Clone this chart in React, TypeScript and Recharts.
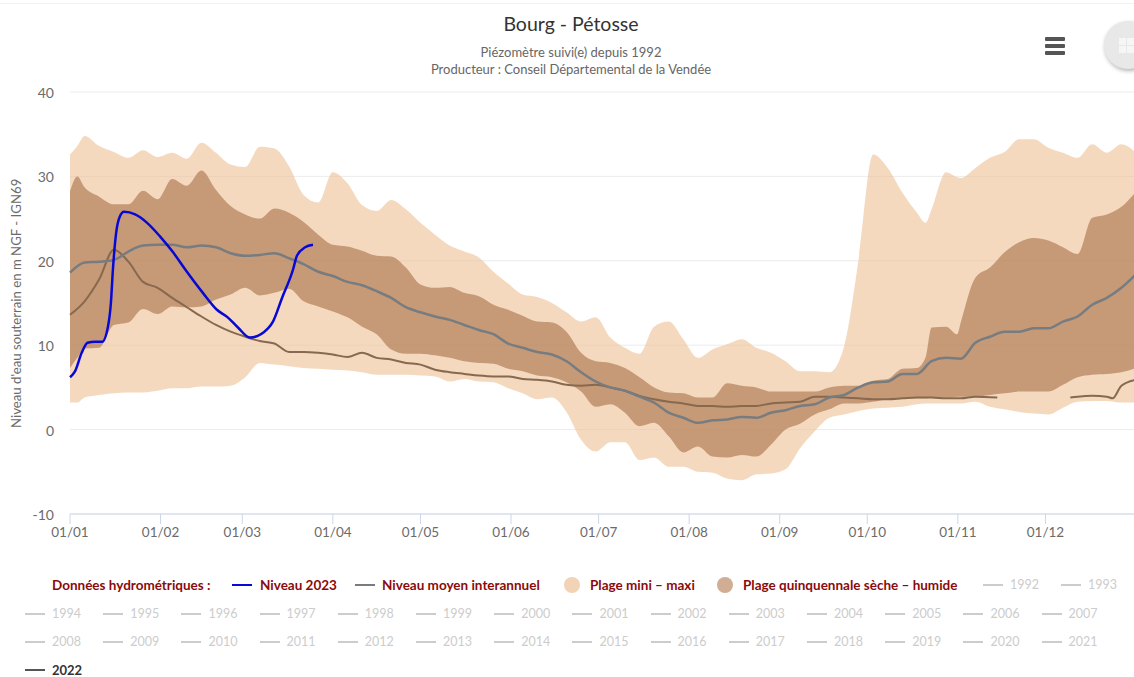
import React from 'react';
import { ComposedChart, Area, Line, XAxis, YAxis, CartesianGrid } from 'recharts';

const FONT = 'Lato, "Noto Sans", sans-serif';

const monthTicks = [0, 31, 59, 90, 120, 151, 181, 212, 243, 273, 304, 334];
const monthLabels = ['01/01', '01/02', '01/03', '01/04', '01/05', '01/06', '01/07', '01/08', '01/09', '01/10', '01/11', '01/12'];
const valueTicks = [-10, 0, 10, 20, 30, 40];

const bandDays = [0, 2.5, 5, 10, 15, 20, 25, 30, 35, 40, 45, 50, 55, 60, 65, 70, 75, 80, 85, 90, 95, 100, 105, 110, 115, 120, 125, 130, 135, 140, 145, 150, 155, 160, 165, 170, 175, 180, 185, 190, 195, 200, 205, 210, 215, 220, 225, 230, 235, 240, 245, 250, 255, 260, 265, 270, 275, 280, 285, 290, 293, 295, 300, 303.8, 305, 310, 315, 320, 325, 330, 335, 340, 345, 350, 355, 360, 365];

const maxValues = [32.6, 33.6, 34.8, 33.6, 32.9, 32.2, 33.1, 32.3, 32.8, 32.1, 34.0, 32.8, 31.4, 31.1, 33.5, 33.3, 31.2, 27.8, 26.9, 30.5, 29.2, 26.6, 25.9, 27.2, 26.1, 24.5, 23.1, 21.8, 21.1, 20.4, 18.7, 17.3, 16.0, 15.7, 15.0, 13.9, 12.8, 13.3, 10.9, 9.7, 9.0, 12.2, 12.8, 10.7, 8.5, 9.5, 10.1, 10.7, 9.7, 9.1, 8.1, 6.9, 6.9, 6.8, 9.8, 20.1, 32.6, 31.0, 28.1, 25.7, 24.5, 26.1, 30.5, 29.9, 29.8, 31.0, 32.2, 32.9, 34.4, 34.4, 33.4, 32.8, 32.2, 33.8, 32.8, 33.8, 32.8];
const minValues = [3.2, 3.2, 3.8, 4.1, 4.3, 4.4, 4.4, 4.6, 4.9, 4.9, 5.1, 5.1, 5.2, 6.2, 7.9, 7.7, 7.5, 7.3, 7.2, 7.1, 7.0, 6.8, 6.5, 6.5, 6.5, 6.4, 6.3, 5.7, 6.0, 5.7, 5.6, 4.9, 4.3, 3.6, 3.8, 2.1, -1.2, -2.6, -1.5, -1.5, -3.6, -3.3, -4.4, -4.4, -5.0, -5.1, -5.8, -6.0, -5.3, -5.2, -4.7, -2.2, -0.2, 1.4, 1.8, 2.2, 2.5, 2.6, 2.7, 3.0, 3.1, 3.1, 3.1, 3.1, 3.1, 3.3, 2.7, 2.4, 2.1, 1.9, 1.8, 2.6, 3.3, 3.4, 3.4, 3.2, 3.2];
const dryValues = [7.3, 8.5, 9.6, 9.7, 12.4, 12.7, 14.3, 13.7, 14.6, 14.5, 14.6, 15.4, 16.0, 16.8, 15.9, 16.2, 16.7, 15.2, 14.6, 14.0, 13.3, 12.2, 11.3, 9.5, 9.0, 9.0, 8.8, 8.5, 8.1, 7.9, 7.8, 7.2, 6.9, 6.4, 6.2, 5.6, 4.5, 2.7, 3.0, 2.0, 0.4, 0.8, -0.8, -2.7, -2.0, -3.2, -3.3, -3.0, -3.2, -1.8, 0.0, 0.7, 1.8, 2.4, 3.1, 3.1, 3.3, 3.6, 3.7, 3.7, 3.7, 3.8, 3.8, 3.9, 3.9, 3.9, 4.1, 4.3, 4.5, 4.5, 4.5, 5.3, 6.2, 6.5, 6.6, 6.8, 7.3];
const wetValues = [28.2, 30.0, 28.7, 27.6, 26.7, 26.7, 28.3, 27.3, 29.7, 28.9, 30.7, 28.4, 26.5, 25.5, 25.0, 26.2, 25.7, 24.6, 23.1, 21.9, 21.7, 21.2, 20.6, 20.5, 19.2, 17.2, 16.8, 16.9, 16.2, 15.8, 14.8, 14.2, 13.5, 12.8, 12.7, 11.6, 9.1, 8.1, 7.9, 7.3, 6.2, 5.0, 4.4, 4.3, 3.8, 3.8, 5.5, 5.2, 5.0, 4.5, 4.5, 4.5, 4.5, 5.0, 5.2, 5.2, 5.8, 6.0, 7.2, 7.3, 8.6, 12.1, 12.2, 11.3, 12.7, 18.0, 19.2, 21.0, 22.2, 22.7, 22.4, 21.6, 20.8, 25.1, 25.5, 26.4, 28.2];

const meanDays = [0, 5, 10, 15, 20, 25, 30, 35, 40, 45, 50, 55, 60, 65, 70, 75, 80, 85, 90, 95, 100, 105, 110, 115, 120, 125, 130, 135, 140, 145, 150, 155, 160, 165, 170, 175, 180, 185, 190, 195, 200, 205, 210, 215, 220, 225, 230, 235, 240, 245, 250, 255, 260, 265, 270, 275, 280, 285, 290, 295, 300, 305, 310, 315, 320, 325, 330, 335, 340, 345, 350, 355, 360, 365];
const meanValues = [18.6, 19.8, 19.9, 20.1, 21.1, 21.8, 21.9, 21.9, 21.6, 21.8, 21.6, 20.9, 20.6, 20.7, 20.9, 20.3, 19.6, 18.7, 18.2, 17.5, 17.1, 16.4, 15.6, 14.5, 13.9, 13.4, 13.0, 12.4, 11.8, 11.3, 10.2, 9.7, 9.2, 8.9, 8.1, 6.8, 5.7, 5.0, 4.6, 3.9, 3.2, 2.0, 1.4, 0.8, 1.1, 1.2, 1.5, 1.4, 2.0, 2.3, 2.8, 3.0, 3.8, 4.1, 5.0, 5.6, 5.7, 6.6, 6.6, 8.1, 8.5, 8.4, 10.3, 11.0, 11.6, 11.6, 12.0, 12.0, 12.8, 13.4, 14.8, 15.6, 16.8, 18.4];

const days2022 = [0, 5, 10, 15, 20, 25, 30, 35, 40, 45, 50, 55, 60, 65, 70, 75, 80, 85, 90, 95, 100, 105, 110, 115, 120, 125, 130, 135, 140, 145, 150, 155, 160, 165, 170, 175, 180, 185, 190, 195, 200, 205, 210, 215, 220, 225, 230, 235, 240, 245, 250, 255, 260, 265, 270, 275, 280, 285, 290, 295, 300, 305, 310, 317.5, 330, 342.5, 345, 350, 355, 357, 360, 365];
const values2022: (number | null)[] = [13.6, 15.2, 17.8, 21.3, 19.9, 17.5, 16.8, 15.6, 14.5, 13.4, 12.4, 11.6, 11.0, 10.5, 10.2, 9.2, 9.2, 9.1, 8.9, 8.6, 9.1, 8.5, 8.3, 7.9, 7.7, 7.1, 6.8, 6.6, 6.4, 6.3, 6.3, 6.0, 5.9, 5.7, 5.3, 5.2, 5.3, 5.0, 4.6, 4.0, 3.6, 3.3, 3.1, 2.8, 2.8, 2.7, 2.8, 2.8, 3.1, 3.2, 3.3, 3.9, 3.9, 3.8, 3.7, 3.6, 3.6, 3.7, 3.8, 3.8, 3.7, 3.7, 3.9, 3.8, null, 3.8, 3.9, 4.0, 3.9, 3.7, 5.2, 5.9];

const days2023 = [0, 1.7, 4, 6, 8.5, 11, 13, 14, 14.7, 15.8, 17, 18.5, 22.3, 26.4, 30.8, 35.3, 39.4, 45.5, 50.3, 54, 57.5, 61.6, 67.8, 69.5, 72.6, 76.4, 77.7, 80.5, 83.2];
const values2023 = [6.2, 6.9, 9.1, 10.3, 10.4, 10.4, 12.2, 15.0, 19.0, 23.3, 25.2, 25.8, 25.5, 24.5, 22.9, 21.0, 19.0, 16.2, 14.2, 13.3, 12.1, 10.9, 12.0, 12.8, 15.6, 19.0, 20.6, 21.6, 21.9];

const yearRow1 = ['1992', '1993'];
const yearRow2 = ['1994', '1995', '1996', '1997', '1998', '1999', '2000', '2001', '2002', '2003', '2004', '2005', '2006', '2007'];
const yearRow3 = ['2008', '2009', '2010', '2011', '2012', '2013', '2014', '2015', '2016', '2017', '2018', '2019', '2020', '2021'];

const bandTable = bandDays.map((day, i) => ({
  day,
  full: [minValues[i], maxValues[i]],
  quint: [dryValues[i], wetValues[i]],
}));
const meanTable = meanDays.map((day, i) => ({ day, value: meanValues[i] }));
const table2022 = days2022.map((day, i) => ({ day, value: values2022[i] }));
const table2023 = days2023.map((day, i) => ({ day, value: values2023[i] }));

const abs = (left: number, top: number, extra: React.CSSProperties = {}): React.CSSProperties => ({
  position: 'absolute', left, top, whiteSpace: 'nowrap', ...extra,
});

const RED = '#8b0a0a';

function LegendText({ x, y, text, color = RED, bold = true, size = 13.5 }: { x: number; y: number; text: string; color?: string; bold?: boolean; size?: number }) {
  return (
    <div style={abs(x, y - 6, { font: `${bold ? 700 : 400} ${size}px/12px ${FONT}`, color })}>{text}</div>
  );
}
function LegendDash({ x, y, color, w = 20 }: { x: number; y: number; color: string; w?: number }) {
  return <div style={abs(x, y - 1, { width: w, height: 2, background: color })} />;
}
function LegendDot({ x, y, color }: { x: number; y: number; color: string }) {
  return <div style={abs(x - 8, y - 8, { width: 16, height: 16, borderRadius: 8, background: color })} />;
}
function Year({ x, y, label, active = false }: { x: number; y: number; label: string; active?: boolean }) {
  return (
    <>
      <LegendDash x={x} y={y} color={active ? '#555555' : '#cccccc'} />
      <LegendText x={x + 27} y={y} text={label} color={active ? '#333333' : '#cccccc'} bold={active} size={active ? 13 : 12.5} />
    </>
  );
}

export default function App() {
  return (
    <div style={{ position: 'fixed', left: 0, top: 0, width: 1134, height: 677, overflow: 'hidden', background: '#fff', fontFamily: FONT }}>
      <div style={abs(0, 3, { width: 1134, height: 1, background: '#f2f2f2' })} />
      <ComposedChart width={1140} height={677} margin={{ top: 92, right: 4, bottom: 133, left: 0 }} data={bandTable}>
        <CartesianGrid horizontal vertical={false} stroke="#ececec" />
        <XAxis
          dataKey="day" type="number" domain={[0, 365]} ticks={monthTicks} interval={0} height={30}
          tickFormatter={(v: number) => monthLabels[monthTicks.indexOf(v)]}
          tick={{ fill: '#6b6b6b', fontSize: 13.5, fontFamily: FONT }} tickSize={10} tickMargin={3}
          stroke="#ccd6eb" allowDuplicatedCategory={false}
        />
        <YAxis
          type="number" domain={[-10, 40]} ticks={valueTicks} width={70} axisLine={false} tickLine={false}
          tick={{ fill: '#6b6b6b', fontSize: 14, fontFamily: FONT, dy: 1 }} tickSize={0} tickMargin={16}
          label={{ value: "Niveau d'eau souterrain en m NGF - IGN69", angle: -90, position: 'insideLeft', offset: 16, dy: 125, style: { fill: '#6b6b6b', fontSize: 13.2, fontFamily: FONT } }}
        />
        <Line data={table2022} dataKey="value" type="monotone" stroke="#86694f" strokeWidth={2} dot={false} isAnimationActive={false} connectNulls={false} />
        <Area dataKey="full" type="monotone" stroke="none" fill="#edc094" fillOpacity={0.6} isAnimationActive={false} dot={false} activeDot={false} />
        <Area dataKey="quint" type="monotone" stroke="none" fill="#b47f58" fillOpacity={0.7} isAnimationActive={false} dot={false} activeDot={false} />
        <Line data={meanTable} dataKey="value" type="monotone" stroke="#777c80" strokeWidth={2.5} dot={false} isAnimationActive={false} />
        <Line data={table2023} dataKey="value" type="monotone" stroke="#0808d4" strokeWidth={2.5} dot={false} isAnimationActive={false} />
      </ComposedChart>

      <div style={abs(0, 12, { width: 1142, textAlign: 'center', font: `400 19.5px/24px ${FONT}`, color: '#333333' })}>Bourg - Pétosse</div>
      <div style={abs(0, 44, { width: 1142, textAlign: 'center', font: `400 13px/17px ${FONT}`, color: '#666666' })}>
        Piézomètre suivi(e) depuis 1992<br />Producteur : Conseil Départemental de la Vendée
      </div>

      {[37, 44, 51].map((t) => (
        <div key={t} style={abs(1045, t, { width: 20, height: 3.5, borderRadius: 1, background: '#555555' })} />
      ))}
      <div style={abs(1104, 21, { width: 48, height: 48, borderRadius: 24, background: '#e8e8e8', boxShadow: '1px 2px 4px rgba(0,0,0,.3)' })} />
      {[0, 1].map((r) => [0, 1].map((c) => (
        <div key={`${r}${c}`} style={abs(1119 + c * 8, 38 + r * 8, { width: 7, height: 7, background: '#f6f6f6' })} />
      )))}

      <LegendText x={52} y={585} text="Données hydrométriques :" />
      <LegendDash x={232} y={585} color="#0808d4" />
      <LegendText x={260} y={585} text="Niveau 2023" />
      <LegendDash x={355} y={585} color="#777c80" />
      <LegendText x={382} y={585} text="Niveau moyen interannuel" />
      <LegendDot x={572} y={585} color="#f2d3b5" />
      <LegendText x={590} y={585} text="Plage mini – maxi" />
      <LegendDot x={725} y={585} color="#d0ad93" />
      <LegendText x={743} y={585} text="Plage quinquennale sèche – humide" />
      {yearRow1.map((y, i) => <Year key={y} x={983 + i * 78} y={585} label={y} />)}
      {yearRow2.map((y, i) => <Year key={y} x={25 + i * 78.2} y={614} label={y} />)}
      {yearRow3.map((y, i) => <Year key={y} x={25 + i * 78.2} y={642} label={y} />)}
      <Year x={25} y={670} label="2022" active />
    </div>
  );
}
